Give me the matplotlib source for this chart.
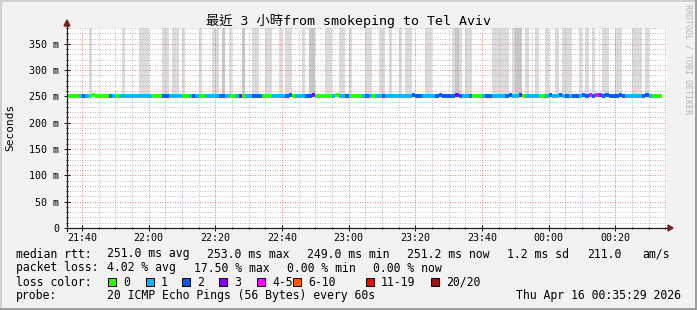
import matplotlib
matplotlib.use('Agg')
import matplotlib.pyplot as plt
from matplotlib.patches import Rectangle, Polygon
from matplotlib.lines import Line2D
from matplotlib.ticker import FixedLocator

# ---------------- data ----------------
title = "最近 3 小時from smokeping to Tel Aviv"
start_clock = "21:35:29"
span_minutes = 180
first_bin_clock = "21:35:00"

x_tick_labels = ["21:40", "22:00", "22:20", "22:40", "23:00",
                 "23:20", "23:40", "00:00", "00:20"]
y_major_ticks = [0, 50, 100, 150, 200, 250, 300, 350]
y_max = 380

# median rtt per minute (ms)
median_ms = [
    250.2, 250.4, 250.1, 250.6, 250.3, 250.8, 250.5, 250.9, 253.0, 250.7,
    250.4, 250.2, 250.6, 250.9, 250.5, 250.3, 250.7, 250.6, 250.8, 250.4,
    250.6, 250.9, 251.1, 250.7, 250.5, 250.3, 250.8, 251.0, 250.6, 251.2,
    251.0, 250.8, 250.6, 250.9, 250.7, 251.3, 251.1, 250.9, 251.4, 251.0,
    251.2, 250.8, 251.0, 251.3, 250.9, 251.1, 251.5, 251.2, 250.9, 251.3,
    251.1, 251.4, 251.0, 250.8, 251.2, 251.5, 251.7, 251.1, 251.3, 251.0,
    251.4, 251.2, 250.9, 251.1, 251.5, 251.3, 251.6, 251.8, 251.2, 251.0,
    251.3, 251.5, 251.1, 251.7, 252.0, 251.4, 251.2, 251.6, 251.3, 251.1,
    251.5, 251.8, 251.3, 251.1, 251.4, 251.2, 251.6, 251.3, 251.0, 251.4,
    251.7, 251.2, 251.5, 251.3, 251.1, 251.6, 251.4, 251.2, 251.5, 251.3,
    251.0, 251.4, 251.6, 251.2, 251.8, 251.5, 251.3, 251.1, 251.4, 251.6,
    251.2, 251.5, 251.9, 251.3, 251.6, 251.4, 251.1, 252.1, 251.7, 251.4,
    251.2, 251.6, 251.3, 251.5, 251.1, 251.4, 251.7, 251.3, 251.5, 251.2,
    251.6, 251.4, 251.1, 251.8, 251.5, 251.3, 252.2, 251.6, 251.4, 251.2,
    251.5, 251.3, 251.7, 251.4, 251.6, 251.9, 251.3, 251.5, 251.8, 251.4,
    251.6, 251.3, 251.7, 251.5, 251.2, 251.8, 251.6, 252.4, 251.7, 252.0,
    251.8, 251.5, 251.9, 251.6, 251.4, 251.7, 251.9, 251.5, 251.3, 251.6,
    251.4, 251.7, 251.5, 251.3, 251.8, 251.6, 251.4, 251.2, 251.2,
]

# lost pings (of 20) per minute
lost_pings = [
    0, 0, 0, 0, 1, 2, 1, 0, 0, 0,
    0, 0, 0, 2, 1, 0, 1, 1, 1, 1,
    1, 1, 1, 1, 1, 1, 0, 0, 0, 2,
    2, 1, 1, 1, 1, 0, 0, 1, 2, 1,
    0, 0, 1, 1, 1, 1, 2, 2, 1, 0,
    0, 1, 3, 0, 1, 1, 2, 2, 2, 0,
    0, 0, 1, 1, 1, 1, 2, 2, 0, 1,
    1, 1, 2, 2, 3, 0, 0, 0, 0, 0,
    1, 0, 1, 1, 2, 0, 0, 0, 0, 1,
    2, 1, 0, 1, 1, 2, 1, 1, 1, 1,
    1, 1, 1, 1, 2, 2, 2, 1, 1, 1,
    1, 2, 2, 2, 2, 2, 2, 3, 2, 1,
    1, 2, 0, 0, 0, 1, 2, 2, 1, 1,
    1, 1, 2, 2, 1, 1, 3, 0, 1, 1,
    1, 1, 0, 0, 1, 2, 1, 1, 2, 1,
    2, 1, 2, 2, 1, 2, 2, 5, 2, 4,
    2, 2, 2, 2, 2, 2, 2, 2, 1, 1,
    1, 1, 1, 2, 2, 1, 0, 0, 0,
]

# number of pings per minute far above the plotted range (smoke)
high_pings = [
    0, 0, 0, 0, 0, 0, 0, 1, 0, 0,
    0, 0, 0, 0, 0, 0, 0, 1, 0, 0,
    0, 0, 1, 1, 1, 0, 0, 0, 0, 1,
    1, 0, 1, 1, 0, 1, 0, 0, 0, 0,
    1, 0, 0, 0, 1, 1, 0, 2, 0, 1,
    0, 0, 0, 2, 0, 0, 1, 1, 0, 0,
    1, 1, 0, 0, 1, 0, 1, 1, 0, 0,
    0, 1, 0, 2, 2, 0, 0, 0, 1, 1,
    0, 0, 1, 1, 0, 1, 0, 0, 0, 0,
    1, 1, 0, 0, 1, 1, 0, 1, 0, 0,
    1, 0, 1, 1, 0, 0, 0, 0, 1, 1,
    0, 0, 0, 0, 0, 0, 1, 2, 1, 0,
    1, 1, 0, 0, 0, 0, 0, 0, 1, 1,
    1, 1, 1, 0, 1, 2, 2, 0, 1, 0,
    0, 1, 0, 0, 1, 0, 0, 1, 0, 1,
    1, 1, 0, 0, 1, 0, 1, 0, 1, 0,
    0, 1, 1, 0, 0, 1, 1, 0, 0, 0,
    1, 1, 1, 0, 1, 0, 0, 0, 0,
]
high_ping_rtt_ms = 1000

loss_bins = [(0, 0), (1, 1), (2, 2), (3, 3), (4, 5), (6, 10), (11, 19), (20, 20)]
loss_labels = ["0", "1", "2", "3", "4-5", "6-10", "11-19", "20/20"]
loss_colors = ["#26ff00", "#00b8ff", "#0059ff", "#7e00ff",
               "#ff00ff", "#ff5500", "#ff0000", "#a01010"]

legend_rtt = ["median rtt:", "251.0 ms avg", "253.0 ms max", "249.0 ms min",
              "251.2 ms now", "1.2 ms sd", "211.0", "am/s"]
legend_loss = ["packet loss:", "4.02 % avg", "17.50 % max", "0.00 % min", "0.00 % now"]
probe_label = "probe:"
probe_text = "20 ICMP Echo Pings (56 Bytes) every 60s"
timestamp_text = "Thu Apr 16 00:35:29 2026"
watermark = "RRDTOOL / TOBI OETIKER"

# ---------------- helpers ----------------
W, H = 697, 310
plt.rcParams['font.family'] = ['DejaVu Sans Mono', 'Noto Sans CJK TC']


def clock_to_min(s):
    p = [int(v) for v in s.split(':')]
    return p[0] * 60 + p[1] + (p[2] / 60 if len(p) > 2 else 0)


t0 = clock_to_min(start_clock)


def offset(label):
    d = (clock_to_min(label) - t0) % 1440
    return d if d < 1000 else d - 1440


def fx(x):
    return x / W


def fy(y):
    return 1 - y / H


BG = '#f2f2f2'
fig = plt.figure(figsize=(W / 100, H / 100), dpi=100, facecolor=BG)
ax = fig.add_axes([fx(67), fy(228), 600 / W, 200 / H])
ax.set_facecolor('white')
for s in ax.spines.values():
    s.set_visible(False)

ax.set_xlim(0, span_minutes)
ax.set_ylim(0, y_max)

# smoke
first_bin = offset(first_bin_clock)
for j, (m, hp) in enumerate(zip(median_ms, high_pings)):
    if hp > 0:
        ax.bar(first_bin + j, high_ping_rtt_ms - m, bottom=m, width=1, align='edge',
               color='#dcdcdc' if hp == 1 else '#c8c8c8', lw=0, zorder=1)

# median coloured by loss
for j, (m, lp) in enumerate(zip(median_ms, lost_pings)):
    ci = [k for k, (a, b) in enumerate(loss_bins) if a <= lp <= b][0]
    ax.hlines(m, first_bin + j, first_bin + j + 1, color=loss_colors[ci],
              lw=2.8, zorder=5, capstyle='butt')

# grid
major_x = [offset(l) for l in x_tick_labels]
minor_x = [major_x[0] + 5 * k for k in range(-1, 40)]
minor_x = [v for v in minor_x if 0 <= v <= span_minutes]
ax.xaxis.set_major_locator(FixedLocator(major_x))
ax.xaxis.set_minor_locator(FixedLocator(minor_x))
ax.set_xticklabels(x_tick_labels)
ax.yaxis.set_major_locator(FixedLocator(y_major_ticks))
ax.yaxis.set_minor_locator(FixedLocator(list(range(0, y_max + 1, 10))))
ax.set_yticklabels([("%d m" % v) if v else "0" for v in y_major_ticks])
ax.set_axisbelow(False)
ax.grid(which='minor', color='#a8a8a8', alpha=0.75, linestyle=(0, (1, 1.5)), lw=0.72, zorder=2)
ax.grid(which='major', color='#e05050', alpha=0.65, linestyle=(0, (1, 1.5)), lw=0.72, zorder=2)
ax.tick_params(which='major', direction='inout', length=4, width=0.72, color='#1f1f1f',
               labelsize=7.2, pad=1.5)
ax.tick_params(which='minor', direction='inout', length=2, width=0.72, color='#1f1f1f')
ax.tick_params(axis='y', pad=3.5)

# axis lines and arrows
AX = '#1f1f1f'
AR = '#801f1f'
fig.add_artist(Line2D([fx(67), fx(668)], [fy(228), fy(228)], color=AX, lw=0.9,
                      transform=fig.transFigure))
fig.add_artist(Line2D([fx(67), fx(67)], [fy(231), fy(25)], color=AX, lw=0.9,
                      transform=fig.transFigure))
fig.add_artist(Polygon([[fx(668), fy(225)], [fx(673), fy(228)], [fx(668), fy(231)]],
                       closed=True, color=AR, transform=fig.transFigure))
fig.add_artist(Polygon([[fx(64), fy(26)], [fx(67), fy(20)], [fx(70), fy(26)]],
                       closed=True, color=AR, transform=fig.transFigure))

# texts
fig.text(fx(348.5), fy(21), title, ha='center', va='center', fontsize=9.5)
fig.text(fx(10), fy(127), "Seconds", rotation=90, ha='center', va='center', fontsize=8)
fig.text(fx(688), fy(59), watermark, rotation=-90, ha='center', va='center',
         fontsize=6, color='#b4b4b4')

LF = 8.3
rtt_x = [16, 107, 207, 307, 407, 507, 587, 642]
for s, x in zip(legend_rtt, rtt_x):
    fig.text(fx(x), fy(254), s, ha='left', va='center', fontsize=LF)
loss_x = [16, 107, 194, 287, 373]
for s, x in zip(legend_loss, loss_x):
    fig.text(fx(x), fy(268), s, ha='left', va='center', fontsize=LF)
fig.text(fx(16), fy(282), "loss color:", ha='left', va='center', fontsize=LF)
sq_x = [108, 146, 182, 219, 257, 293, 366, 431]
for lab, col, x in zip(loss_labels, loss_colors, sq_x):
    fig.add_artist(Rectangle((fx(x), fy(286)), 8 / W, 8 / H, facecolor=col,
                             edgecolor='black', lw=0.7, transform=fig.transFigure))
    fig.text(fx(x + 15), fy(282), lab, ha='left', va='center', fontsize=LF)
fig.text(fx(16), fy(296), probe_label, ha='left', va='center', fontsize=LF)
fig.text(fx(107), fy(296), probe_text, ha='left', va='center', fontsize=LF)
fig.text(fx(681), fy(296), timestamp_text, ha='right', va='center', fontsize=LF)

# frame shades
fig.add_artist(Rectangle((0, fy(2)), 1, 2 / H, color='#cfcfcf', lw=0, transform=fig.transFigure))
fig.add_artist(Rectangle((0, 0), 2 / W, 1, color='#cfcfcf', lw=0, transform=fig.transFigure))
fig.add_artist(Rectangle((0, 0), 1, 2 / H, color='#9e9e9e', lw=0, transform=fig.transFigure))
fig.add_artist(Rectangle((1 - 2 / W, 0), 2 / W, 1, color='#9e9e9e', lw=0, transform=fig.transFigure))

fig.savefig('out.png', dpi=100, facecolor=BG)
